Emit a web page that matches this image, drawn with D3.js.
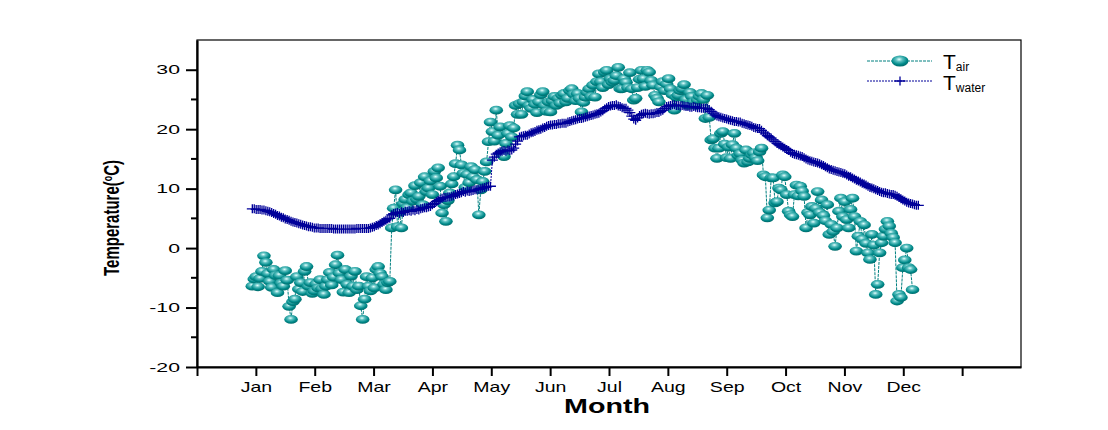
<!DOCTYPE html>
<html>
<head>
<meta charset="utf-8">
<script src="https://cdn.jsdelivr.net/npm/d3@7"></script>
<style>
  body { margin: 0; background: #fff; }
  svg { display: block; font-family: "Liberation Sans", Arial, sans-serif; }
</style>
</head>
<body>
<div id="chart"></div>
<script>
// month labels on the x axis (ticks 1..12), tick 0 and 13 have no label
const months = ["Jan", "Feb", "Mar", "Apr", "May", "Jun", "Jul", "Aug", "Sep", "Oct", "Nov", "Dec"];
const yTicks = [-20, -10, 0, 10, 20, 30];

// daily air temperature (starting 1 Jan)
const airTemp = [
  -6.4, -5.2, -4.8, -6.5, -5.1, -3.9, -1.3, -2.4, -4.3, -5.6,
  -6.6, -3.6, -4.6, -7.5, -4.6, -5.9, -6.4, -3.8, -5.4, -9.8,
  -12.0, -9.0, -8.6, -4.8, -6.9, -5.8, -7.3, -3.9, -3.1, -6.4,
  -5.8, -7.6, -7.2, -6.0, -6.7, -5.3, -6.8, -7.8, -6.4, -5.3,
  -4.1, -6.2, -4.9, -2.8, -1.2, -4.2, -5.3, -7.4, -3.6, -6.1,
  -7.5, -4.7, -6.4, -3.9, -7.0, -6.4, -9.7, -12.0, -8.6, -4.8,
  -6.4, -7.2, -5.0, -6.7, -3.6, -3.1, -4.2, -4.8, -6.1, -7.0,
  -5.8, -5.6, 3.4, 6.7, 9.8, 3.6, 6.0, 3.4, 7.5, 8.2,
  6.8, 9.0, 9.3, 7.9, 10.5, 8.2, 8.7, 11.0, 7.3, 12.0,
  9.5, 10.1, 11.3, 9.0, 12.9, 11.8, 13.5, 10.4, 5.9, 7.3,
  4.5, 8.0, 9.3, 10.8, 12.0, 14.2, 17.3, 16.5, 14.0, 12.6,
  10.2, 12.4, 11.0, 13.7, 12.0, 13.2, 11.5, 5.6, 9.8, 11.2,
  12.9, 14.5, 17.9, 21.2, 19.6, 18.0, 23.2, 19.0, 20.4, 16.0,
  15.4, 17.6, 19.3, 20.6, 18.7, 20.2, 24.0, 22.5, 24.3, 22.5,
  24.6, 25.6, 26.3, 24.0, 23.5, 25.0, 24.2, 22.8, 24.6, 25.8,
  26.3, 24.0, 23.0, 24.6, 22.9, 24.8, 25.5, 24.0, 25.2, 24.4,
  25.7, 26.0, 24.6, 25.2, 26.5, 26.8, 25.9, 24.8, 26.0, 25.2,
  22.9, 24.5, 25.4, 26.2, 26.8, 25.5, 27.4, 25.4, 28.0, 29.3,
  28.0, 27.0, 29.6, 29.9, 27.5, 28.5, 27.9, 28.2, 29.0, 30.4,
  26.8, 26.8, 28.5, 27.9, 27.0, 29.5, 26.8, 24.9, 25.2, 27.0,
  28.4, 29.9, 28.5, 27.2, 29.9, 29.6, 28.2, 27.4, 25.7, 25.2,
  24.6, 27.1, 28.0, 26.5, 27.6, 28.5, 26.8, 25.8, 23.2, 25.4,
  25.7, 26.5, 26.8, 27.5, 25.0, 24.0, 26.2, 25.5, 24.6, 24.0,
  24.9, 25.5, 26.0, 25.0, 21.8, 25.7, 22.0, 18.2, 18.4, 16.8,
  15.1, 16.8, 19.3, 19.6, 17.5, 15.2, 17.0, 15.1, 17.4, 19.3,
  16.8, 15.6, 15.9, 14.8, 14.3, 16.5, 14.5, 15.1, 15.7, 16.0,
  15.2, 14.7, 16.2, 16.8, 12.3, 12.0, 5.1, 6.4, 11.8, 11.8,
  7.6, 7.8, 10.1, 9.8, 12.3, 12.0, 9.0, 6.2, 5.6, 5.3,
  9.0, 10.6, 8.8, 10.4, 9.6, 8.7, 3.4, 6.0, 5.6, 7.0,
  4.2, 6.7, 9.5, 6.0, 8.1, 5.5, 4.6, 7.3, 2.3, 4.0,
  2.8, 0.3, 3.4, 6.2, 8.4, 5.3, 7.8, 4.8, 3.4, 6.5,
  8.4, 5.3, -0.5, 2.0, 4.5, 1.5, 3.9, 0.8, -0.8, -1.9,
  2.3, 0.5, -7.8, -6.1, -0.8, 0.9, 2.0, 3.2, 4.5, 3.7,
  2.5, 1.8, 0.9, -8.9, -7.8, -8.3, -3.3, -2.0, 0.0, -3.3,
  -3.6, -7.0
];

// daily water temperature (starting 1 Jan)
const waterTemp = [
  6.6, 6.6, 6.5, 6.5, 6.5, 6.4, 6.4, 6.3, 6.2, 6.1,
  6.0, 5.8, 5.7, 5.5, 5.4, 5.2, 5.1, 4.9, 4.8, 4.7,
  4.5, 4.4, 4.3, 4.2, 4.1, 4.0, 3.9, 3.8, 3.7, 3.6,
  3.6, 3.5, 3.4, 3.4, 3.4, 3.3, 3.3, 3.3, 3.3, 3.3,
  3.3, 3.3, 3.2, 3.2, 3.2, 3.2, 3.2, 3.2, 3.2, 3.2,
  3.2, 3.2, 3.2, 3.2, 3.3, 3.3, 3.3, 3.3, 3.3, 3.3,
  3.3, 3.4, 3.5, 3.6, 3.8, 3.9, 4.1, 4.3, 4.5, 4.7,
  4.9, 5.0, 5.6, 5.8, 5.9, 6.0, 5.8, 6.1, 6.0, 6.2,
  6.2, 6.3, 6.2, 6.4, 6.3, 6.5, 6.4, 6.6, 6.7, 6.8,
  6.8, 6.9, 7.0, 7.3, 7.5, 7.8, 8.0, 8.2, 8.4, 8.5,
  8.5, 8.6, 8.6, 8.7, 8.8, 9.0, 9.1, 9.2, 9.3, 9.5,
  9.4, 9.6, 9.5, 9.6, 9.7, 9.8, 9.8, 9.9, 10.0, 10.1,
  10.2, 10.3, 10.4, 10.4, 14.8, 15.3, 15.8, 16.0, 16.2, 16.3,
  16.4, 16.3, 16.5, 16.4, 16.5, 16.8, 17.5, 18.0, 18.7, 18.8,
  18.9, 19.0, 19.0, 19.2, 19.4, 19.5, 19.6, 19.8, 19.9, 20.0,
  20.2, 20.3, 20.5, 20.6, 20.7, 20.7, 20.8, 20.8, 20.9, 20.9,
  21.0, 21.0, 21.0, 21.2, 21.3, 21.4, 21.5, 21.6, 21.7, 21.8,
  21.8, 21.9, 22.0, 22.1, 22.2, 22.3, 22.4, 22.5, 22.6, 22.7,
  22.9, 23.1, 23.4, 23.6, 23.8, 23.9, 24.0, 24.0, 24.1, 23.9,
  23.8, 23.6, 23.5, 23.5, 23.2, 22.8, 22.2, 21.7, 21.5, 21.9,
  22.3, 22.5, 22.6, 22.7, 22.6, 22.5, 22.6, 22.6, 22.7, 22.8,
  22.8, 23.0, 23.2, 23.5, 23.8, 23.9, 24.0, 24.1, 24.1, 24.0,
  24.0, 23.9, 24.0, 23.9, 23.8, 23.8, 23.7, 23.7, 23.8, 23.7,
  23.6, 23.6, 23.5, 23.5, 23.5, 23.5, 23.3, 23.0, 22.7, 22.4,
  22.2, 22.1, 22.0, 21.9, 21.8, 21.7, 21.6, 21.5, 21.4, 21.3,
  21.3, 21.2, 21.2, 21.0, 20.9, 20.8, 20.7, 20.6, 20.5, 20.3,
  20.2, 20.1, 20.1, 19.8, 19.5, 19.2, 18.9, 18.7, 18.5, 18.2,
  17.9, 17.6, 17.4, 17.2, 17.0, 16.8, 16.6, 16.4, 16.1, 15.9,
  15.8, 15.7, 15.6, 15.5, 15.4, 15.2, 15.0, 14.8, 14.7, 14.6,
  14.5, 14.4, 14.3, 14.2, 14.0, 13.9, 13.7, 13.5, 13.3, 13.2,
  13.1, 13.0, 12.9, 12.8, 12.7, 12.6, 12.5, 12.3, 12.1, 12.0,
  11.8, 11.6, 11.4, 11.3, 11.1, 10.9, 10.8, 10.6, 10.4, 10.2,
  10.1, 10.0, 9.8, 9.7, 9.5, 9.4, 9.3, 9.3, 9.2, 9.1,
  9.0, 9.0, 8.9, 8.7, 8.5, 8.3, 8.1, 7.9, 7.7, 7.6,
  7.5, 7.4, 7.3, 7.2, 7.2
];

const width = 1108, height = 430;
const plot = { left: 197, right: 1021, top: 40, bottom: 367 };
const startMonth = 0.94;     // where day 0 sits on the month axis
const daysPerMonth = 30.4;

const svg = d3.select("#chart").append("svg")
    .attr("width", width)
    .attr("height", height);

const defs = svg.append("defs");
const grad = defs.append("radialGradient")
    .attr("id", "ball")
    .attr("cx", "45%").attr("cy", "35%").attr("r", "65%");
grad.append("stop").attr("offset", "0%").attr("stop-color", "#e6ffff");
grad.append("stop").attr("offset", "30%").attr("stop-color", "#5cc0c0");
grad.append("stop").attr("offset", "70%").attr("stop-color", "#008a8a");
grad.append("stop").attr("offset", "100%").attr("stop-color", "#006a6a");

const x = d3.scaleLinear().domain([0, 14]).range([plot.left, plot.right]);
const y = d3.scaleLinear().domain([-20, 35]).range([plot.bottom, plot.top]);
const xDay = i => x(startMonth + i / daysPerMonth);

// stretch text horizontally like the original export
function stretch(sel, k) {
    sel.each(function () {
        const w = this.getComputedTextLength();
        d3.select(this).attr("textLength", w * k).attr("lengthAdjust", "spacingAndGlyphs");
    });
}

// frame
svg.append("rect")
    .attr("x", plot.left).attr("y", plot.top)
    .attr("width", plot.right - plot.left).attr("height", plot.bottom - plot.top)
    .attr("fill", "none").attr("stroke", "#000").attr("stroke-width", 1.2);

// y axis
const yAxis = svg.append("g")
    .attr("transform", `translate(${plot.left},0)`)
    .call(d3.axisLeft(y).tickValues(yTicks).tickFormat(d => String(d))
        .tickSize(11).tickPadding(6).tickSizeOuter(0));
yAxis.select(".domain").attr("stroke-width", 2.2);
yAxis.selectAll(".tick line").attr("stroke-width", 2);
yAxis.selectAll(".tick text").attr("font-size", 12.5).attr("fill", "#000").call(stretch, 1.7);
yAxis.selectAll(".minor")
    .data([-15, -5, 5, 15, 25])
    .join("line")
    .attr("class", "minor")
    .attr("x1", -6).attr("x2", 0)
    .attr("y1", d => y(d)).attr("y2", d => y(d))
    .attr("stroke", "#000").attr("stroke-width", 2);

// x axis
const xAxis = svg.append("g")
    .attr("transform", `translate(0,${plot.bottom})`)
    .call(d3.axisBottom(x).tickValues(d3.range(0, 14))
        .tickFormat(i => months[i - 1] || "")
        .tickSize(9).tickPadding(5).tickSizeOuter(0));
xAxis.select(".domain").attr("stroke-width", 2.2);
xAxis.selectAll(".tick line").attr("stroke-width", 2);
xAxis.selectAll(".tick text").attr("font-size", 15).attr("fill", "#000").call(stretch, 1.3);

// axis titles
svg.append("text")
    .attr("transform", "translate(119,218) rotate(-90)")
    .attr("text-anchor", "middle")
    .attr("font-family", "'Liberation Sans Narrow', 'Liberation Sans', sans-serif")
    .attr("font-weight", "bold")
    .attr("font-size", 22)
    .attr("textLength", 116).attr("lengthAdjust", "spacingAndGlyphs")
    .html('Temperature(<tspan dy="-7" font-size="13">o</tspan><tspan dy="7">C)</tspan>');

svg.append("text")
    .attr("x", 607).attr("y", 413)
    .attr("text-anchor", "middle")
    .attr("font-weight", "bold")
    .attr("font-size", 20)
    .attr("textLength", 86).attr("lengthAdjust", "spacingAndGlyphs")
    .text("Month");

// air temperature series
const seriesLine = d3.line().x((d, i) => xDay(i)).y(d => y(d));
svg.append("path")
    .datum(airTemp)
    .attr("d", seriesLine)
    .attr("fill", "none")
    .attr("stroke", "#008080")
    .attr("stroke-width", 1)
    .attr("stroke-dasharray", "3,1");

svg.append("g").selectAll("ellipse")
    .data(airTemp)
    .join("ellipse")
    .attr("cx", (d, i) => xDay(i))
    .attr("cy", d => y(d))
    .attr("rx", 6.8).attr("ry", 4.4)
    .attr("fill", "url(#ball)");

// water temperature series
svg.append("path")
    .datum(waterTemp)
    .attr("d", seriesLine)
    .attr("fill", "none")
    .attr("stroke", "#000099")
    .attr("stroke-width", 1)
    .attr("stroke-dasharray", "2,1");

const cross = (cx, cy) => `M${cx - 5.5},${cy}H${cx + 5.5}M${cx},${cy - 4.5}V${cy + 4.5}`;
svg.append("path")
    .attr("d", waterTemp.map((d, i) => cross(xDay(i), y(d))).join(""))
    .attr("fill", "none")
    .attr("stroke", "#000099")
    .attr("stroke-width", 1.3);

// legend
const lg = svg.append("g");
lg.append("line")
    .attr("x1", 867).attr("x2", 932).attr("y1", 61).attr("y2", 61)
    .attr("stroke", "#008080").attr("stroke-width", 1).attr("stroke-dasharray", "3,1");
lg.append("ellipse")
    .attr("cx", 900).attr("cy", 61).attr("rx", 8.5).attr("ry", 5.5)
    .attr("fill", "url(#ball)");
lg.append("line")
    .attr("x1", 867).attr("x2", 932).attr("y1", 81).attr("y2", 81)
    .attr("stroke", "#000099").attr("stroke-width", 1).attr("stroke-dasharray", "2,1");
lg.append("path")
    .attr("d", cross(900, 81))
    .attr("stroke", "#000099").attr("stroke-width", 1.3);

lg.append("text").attr("x", 943).attr("y", 69).attr("font-size", 21)
    .html('T<tspan font-size="12" dy="2">air</tspan>');
lg.append("text").attr("x", 943).attr("y", 90).attr("font-size", 21)
    .html('T<tspan font-size="12" dy="2">water</tspan>');
</script>
</body>
</html>
